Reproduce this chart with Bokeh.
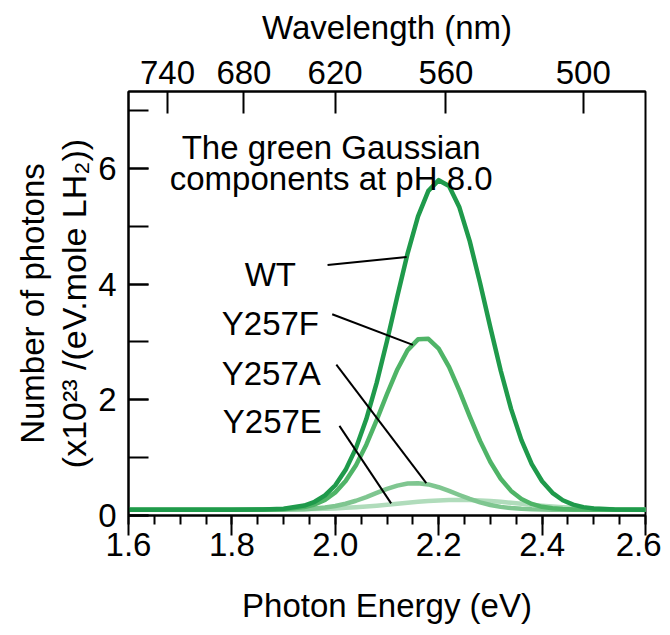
from bokeh.plotting import figure
from bokeh.models import (Range1d, LinearAxis, FixedTicker, SingleIntervalTicker,
                          Label, PrintfTickFormatter, Title)
from bokeh.embed import file_html
from bokeh.resources import INLINE

# ---------------- data ----------------
energy_ev = [1.60, 1.70, 1.80, 1.86, 1.90, 1.94, 1.96, 1.98, 2.00, 2.02, 2.04, 2.06,
             2.08, 2.10, 2.12, 2.14, 2.16, 2.18, 2.20, 2.22, 2.24, 2.26, 2.28, 2.30,
             2.32, 2.34, 2.36, 2.38, 2.40, 2.42, 2.44, 2.46, 2.48, 2.50, 2.54, 2.60]

wt = [0.100, 0.100, 0.100, 0.103, 0.117, 0.172, 0.237, 0.347, 0.523, 0.789, 1.165, 1.668,
      2.293, 3.018, 3.790, 4.537, 5.172, 5.613, 5.797, 5.697, 5.328, 4.743, 4.020, 3.248,
      2.502, 1.843, 1.303, 0.889, 0.592, 0.392, 0.264, 0.188, 0.145, 0.122, 0.104, 0.100]

y257f = [0.100, 0.100, 0.100, 0.102, 0.110, 0.145, 0.190, 0.270, 0.400, 0.595, 0.870, 1.225,
         1.650, 2.100, 2.525, 2.860, 3.045, 3.055, 2.885, 2.570, 2.160, 1.715, 1.290, 0.925,
         0.635, 0.425, 0.285, 0.200, 0.150, 0.124, 0.111, 0.105, 0.102, 0.100, 0.100, 0.100]

y257a = [0.100, 0.100, 0.100, 0.100, 0.102, 0.110, 0.120, 0.137, 0.164, 0.203, 0.255, 0.319,
         0.390, 0.459, 0.516, 0.552, 0.559, 0.537, 0.489, 0.425, 0.354, 0.286, 0.227, 0.182,
         0.149, 0.128, 0.115, 0.107, 0.103, 0.101, 0.100, 0.100, 0.100, 0.100, 0.100, 0.100]

y257e = [0.100, 0.100, 0.100, 0.101, 0.103, 0.107, 0.111, 0.116, 0.123, 0.132, 0.142, 0.155,
         0.170, 0.186, 0.203, 0.220, 0.236, 0.250, 0.261, 0.268, 0.270, 0.268, 0.261, 0.250,
         0.236, 0.220, 0.203, 0.186, 0.170, 0.155, 0.142, 0.132, 0.123, 0.116, 0.107, 0.102]

series_names = ["WT", "Y257F", "Y257A", "Y257E"]
series_colors = ["#1f9a4b", "#4fb467", "#7fc690", "#b0dcbb"]

# label anchors (right end of each name) and pointer lines to the curves
name_x = [1.924, 1.9685, 1.972, 1.974]
name_y = [4.17, 3.325, 2.45, 1.626]
pointer_x0 = [1.985, 1.994, 2.002, 2.008]
pointer_y0 = [4.33, 3.48, 2.61, 1.55]
pointer_x1 = [2.138, 2.150, 2.176, 2.108]
pointer_y1 = [4.47, 2.95, 0.56, 0.21]

wavelength_ticks_nm = [740, 680, 620, 560, 500]
HC_EV_NM = 1239.84

x_title = "Photon Energy (eV)"
top_title = "Wavelength (nm)"
y_title_1 = "Number of photons"
y_title_2 = "(x10\u00b2\u00b3 /(eV.mole LH\u2082))"
note_lines = ["The green Gaussian", "components at pH 8.0"]

# ---------------- figure ----------------
FONT = "Liberation Sans"
FS = "33px"

p = figure(frame_width=517, frame_height=424,
           min_border_left=128, min_border_right=16,
           min_border_top=91, min_border_bottom=100,
           x_range=Range1d(1.6, 2.6), y_range=Range1d(0.0, 7.33),
           output_backend="svg", toolbar_location=None)
p.grid.visible = False
p.outline_line_color = "black"
p.outline_line_width = 2
p.background_fill_color = "white"
p.border_fill_color = "white"

# bottom axis
xa = p.xaxis[0]
xa.ticker = SingleIntervalTicker(interval=0.2, num_minor_ticks=4)
xa.formatter = PrintfTickFormatter(format="%.1f")
xa.major_tick_in, xa.major_tick_out = 0, 20
xa.minor_tick_in, xa.minor_tick_out = 0, 9
xa.major_label_standoff = -3
xa.axis_label = x_title
xa.axis_label_standoff = 28

# left axis
ya = p.yaxis[0]
ya.ticker = SingleIntervalTicker(interval=2, num_minor_ticks=2)
ya.formatter = PrintfTickFormatter(format="%d")
ya.major_tick_in, ya.major_tick_out = 20, 0
ya.minor_tick_in, ya.minor_tick_out = 20, 0
ya.major_label_standoff = 12

# top axis (wavelength)
top_ticks = [round(HC_EV_NM / w, 4) for w in wavelength_ticks_nm]
ta = LinearAxis(ticker=FixedTicker(ticks=top_ticks, minor_ticks=[]),
                major_label_overrides={t: str(w) for t, w in zip(top_ticks, wavelength_ticks_nm)},
                axis_label=top_title)
ta.major_tick_in, ta.major_tick_out = 22, 0
ta.minor_tick_in, ta.minor_tick_out = 0, 0
ta.major_label_standoff = 8
ta.axis_label_standoff = 12
p.add_layout(ta, "above")

for ax in (xa, ya, ta):
    ax.axis_line_color = "black"
    ax.axis_line_width = 2
    ax.major_tick_line_color = "black"
    ax.major_tick_line_width = 2
    ax.minor_tick_line_color = "black"
    ax.minor_tick_line_width = 2
    ax.major_label_text_font = FONT
    ax.major_label_text_font_size = FS
    ax.major_label_text_color = "black"
    ax.axis_label_text_font = FONT
    ax.axis_label_text_font_size = FS
    ax.axis_label_text_font_style = "normal"
    ax.axis_label_text_color = "black"

# y-axis title: two lines, placed as side titles next to the left axis
for txt, size, stand in ((y_title_2, "34px", 5), (y_title_1, FS, 0)):
    p.add_layout(Title(text=txt, align="center", text_font=FONT, text_font_size=size,
                       text_font_style="normal", text_color="black", standoff=stand), "left")

# curves (lightest first, WT on top)
for ys, col in reversed(list(zip([wt, y257f, y257a, y257e], series_colors))):
    p.line(energy_ev, ys, line_color=col, line_width=4.5, line_join="round", line_cap="round")

# pointer lines
p.segment(x0=pointer_x0, y0=pointer_y0, x1=pointer_x1, y1=pointer_y1,
          line_color="black", line_width=2)


def add_text(text, x, y, align):
    p.add_layout(Label(x=x, y=y, text=text, text_align=align, text_baseline="alphabetic",
                       text_font=FONT, text_font_size=FS, text_color="black"))


for nm, x, y in zip(series_names, name_x, name_y):
    add_text(nm, x, y, "right")

note_y = [6.355, 5.83]
for t, y in zip(note_lines, note_y):
    add_text(t, 1.992, y, "center")

open("out.html", "w").write(file_html(p, INLINE))
